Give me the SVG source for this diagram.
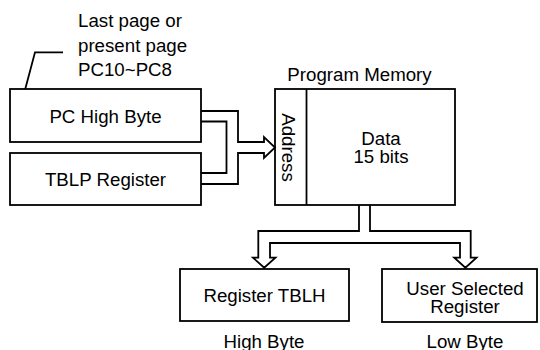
<svg xmlns="http://www.w3.org/2000/svg" width="540" height="350" viewBox="0 0 540 350">
<style>
text{font-family:"Liberation Sans",Arial,sans-serif;font-size:18.7px;fill:#000}
.c{text-anchor:middle}
.box{fill:#fff;stroke:#000;stroke-width:1.8}
.ln{fill:none;stroke:#000;stroke-width:1.8;stroke-linejoin:miter}
</style>
<rect width="540" height="350" fill="#fff"/>
<g id="note">
<path class="ln" d="M21,105 L35,52.3 H63"/>
<text x="78" y="26.7">Last page or</text>
<text x="78" y="51.7">present page</text>
<text x="78" y="76">PC10~PC8</text>
</g>
<g id="pc-high">
<rect class="box" x="10" y="89" width="191" height="53"/>
<text class="c" x="105.5" y="122.7">PC High Byte</text>
</g>
<g id="tblp">
<rect class="box" x="10" y="153" width="191" height="52"/>
<text class="c" x="105.5" y="186">TBLP Register</text>
</g>
<g id="memory">
<text class="c" x="359.5" y="81">Program Memory</text>
<rect class="box" x="275" y="89" width="180" height="116"/>
<line class="ln" x1="306.5" y1="89" x2="306.5" y2="205"/>
<text class="c" transform="translate(281.5,147.5) rotate(90)">Address</text>
<text class="c" x="381" y="145">Data</text>
<text class="c" x="381" y="163">15 bits</text>
</g>
<g id="tblh">
<rect class="box" x="180" y="269" width="169" height="52"/>
<text class="c" x="264.5" y="302">Register TBLH</text>
<text class="c" x="264" y="347.5">High Byte</text>
</g>
<g id="user-reg">
<rect class="box" x="382" y="269" width="155" height="53"/>
<text class="c" x="465" y="295">User Selected</text>
<text class="c" x="465" y="312.5">Register</text>
<text class="c" x="465" y="347.5">Low Byte</text>
</g>
<g id="connectors">
<path class="ln" d="M201,111 H238 V142 H264 V137 L275,147.5 L264,158 V153 H238 V184 H201"/>
<path class="ln" d="M201,121.5 H226.5 V173 H201"/>
<path class="ln" d="M359,205 V231 H258.3 V257.7 H253 L264.2,267.7 L275.4,257.7 H270 V243 H460 V257.7 H454.3 L465.4,267.7 L476.5,257.7 H470.7 V231 H370 V205"/>
</g>
</svg>
